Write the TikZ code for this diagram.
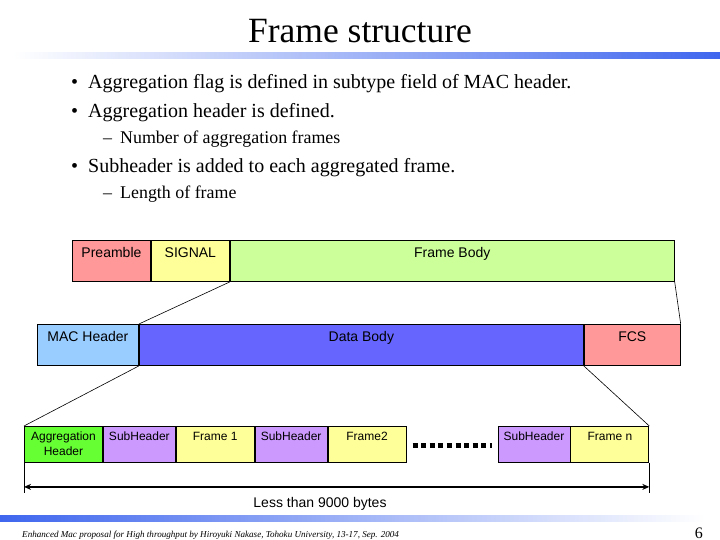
\documentclass[tikz,border=0pt]{standalone}
\usepackage{fontspec}
\setmainfont{Liberation Serif}
\newfontfamily\arialfont{Liberation Sans}
\usepackage{xcolor}
\usetikzlibrary{arrows.meta,positioning}
\definecolor{FSRed}     {HTML}{FF9999}
\definecolor{FSYellow}  {HTML}{FFFF99}
\definecolor{FSGreen}   {HTML}{CCFF99}
\definecolor{FSLtBlue}  {HTML}{99CCFF}
\definecolor{FSBlue}    {HTML}{6666FF}
\definecolor{FSAggGreen}{HTML}{66FF33}
\definecolor{FSPurple}  {HTML}{CC99FF}
\definecolor{FSBar}     {HTML}{3F66EE}

\begin{document}
\begin{tikzpicture}[x=1pt,y=-1pt,
    fieldbox/.style={draw=black,line width=0.9pt,inner sep=0pt,
      font=\arialfont\fontsize{14}{16}\selectfont,
      text height=17pt,text depth=24pt},
    subbox/.style={draw=black,line width=0.9pt,inner sep=0pt,
      font=\arialfont\fontsize{12}{15}\selectfont,
      text height=14.5pt,text depth=21.5pt},
    bulletline/.style={anchor=base west,inner sep=0pt,font=\fontsize{20}{24}\selectfont},
    subline/.style={anchor=base west,inner sep=0pt,font=\fontsize{17.9}{21}\selectfont}]
    \useasboundingbox (0,0) rectangle (720,540);

    % Title and bars
    \node[anchor=base,inner sep=0pt,font=\fontsize{35.5}{40}\selectfont] (title) at (360,43) {Frame structure};
    \shade[left color=white,right color=FSBar] (13,53) rectangle (720,59);
    \shade[left color=FSBar,right color=white] (0,515) rectangle (705,521);

    % Bullets
    \node[bulletline] (b1) at (71,89)  {\makebox[17pt][l]{\textbullet}Aggregation flag is defined in subtype field of MAC header.};
    \node[bulletline] (b2) at (71,118) {\makebox[17pt][l]{\textbullet}Aggregation header is defined.};
    \node[subline]    (s1) at (103,144) {\makebox[17pt][l]{--}Number of aggregation frames};
    \node[bulletline] (b3) at (71,173) {\makebox[17pt][l]{\textbullet}Subheader is added to each aggregated frame.};
    \node[subline]    (s2) at (103,199) {\makebox[17pt][l]{--}Length of frame};

    % PHY frame
    \node[fieldbox,fill=FSRed,minimum width=78pt,anchor=north west] (preamble) at (72,240) {Preamble};
    \node[fieldbox,fill=FSYellow,minimum width=78pt,right=0pt of preamble] (signal) {SIGNAL};
    \node[fieldbox,fill=FSGreen,minimum width=444pt,right=0pt of signal] (framebody) {Frame Body};

    % MAC frame
    \node[fieldbox,fill=FSLtBlue,minimum width=101pt,anchor=north west] (macheader) at (37,324) {MAC Header};
    \node[fieldbox,fill=FSBlue,minimum width=444pt,right=0pt of macheader] (databody) {Data Body};
    \node[fieldbox,fill=FSRed,minimum width=96pt,right=0pt of databody] (fcs) {FCS};

    % Aggregated data body
    \node[subbox,fill=FSAggGreen,minimum width=78pt,text width=78pt,align=center,anchor=north west] (agghdr) at (24,426) {Aggregation\\Header};
    \node[subbox,fill=FSPurple,minimum width=72pt,right=0pt of agghdr] (subhdr1) {SubHeader};
    \node[subbox,fill=FSYellow,minimum width=78pt,right=0pt of subhdr1] (frame1) {Frame 1};
    \node[subbox,fill=FSPurple,minimum width=72pt,right=0pt of frame1] (subhdr2) {SubHeader};
    \node[subbox,fill=FSYellow,minimum width=78pt,right=0pt of subhdr2] (frame2) {Frame2};
    \node[subbox,fill=FSPurple,minimum width=72pt,anchor=north west] (subhdrn) at (497.5,426) {SubHeader};
    \node[subbox,fill=FSYellow,minimum width=78pt,right=0pt of subhdrn] (framen) {Frame n};
    \draw[line width=5pt,dash pattern=on 5pt off 3.6pt] ([xshift=6pt,yshift=-1pt]frame2.east) -- ([xshift=-6pt,yshift=-1pt]subhdrn.west);

    % Expansion lines
    \draw[line width=0.6pt] (signal.south east) -- (macheader.north east);
    \draw[line width=0.6pt] (framebody.south east) -- (fcs.north east);
    \draw[line width=0.6pt] (macheader.south east) -- (agghdr.north west);
    \draw[line width=0.6pt] (databody.south east) -- (framen.north east);

    % Length
    \draw[line width=0.6pt] (agghdr.south west) -- ++(0,30);
    \draw[line width=0.6pt] (framen.south east) -- ++(0,30);
    \path (agghdr.south west) ++(0,24) coordinate (dimL);
    \path (framen.south east) ++(0,24) coordinate (dimR);
    \draw[line width=2pt,{Stealth[length=7pt,width=6pt]}-{Stealth[length=7pt,width=6pt]}] (dimL) -- (dimR);
    \node[font=\arialfont\fontsize{14}{16}\selectfont,inner sep=0pt] (lenlabel) at (320,504) {Less than 9000 bytes};

    % Footer
    \node[anchor=base west,inner sep=0pt,font=\itshape\fontsize{9.1}{10}\selectfont] (footer) at (22,537)
      {Enhanced Mac proposal for High throughput by Hiroyuki Nakase, Tohoku University, 13-17, Sep. 2004};
    \node[anchor=base east,inner sep=0pt,font=\fontsize{16}{18}\selectfont] (pagenum) at (703,538) {6};
  \end{tikzpicture}
\end{document}
